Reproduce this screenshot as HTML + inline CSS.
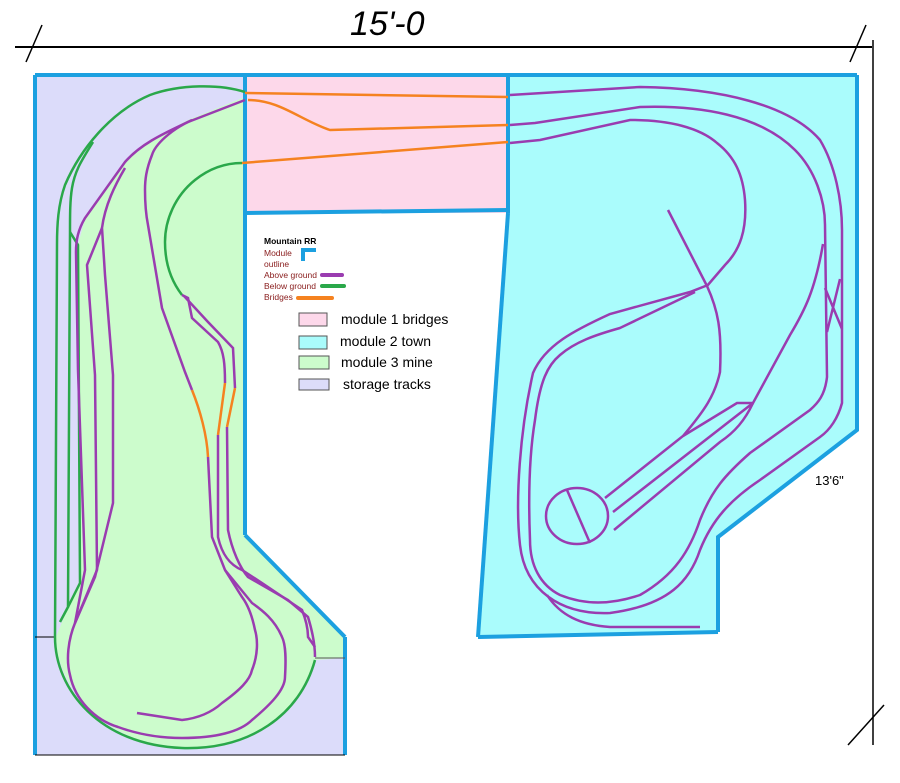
<!DOCTYPE html>
<html><head><meta charset="utf-8"><style>
html,body{margin:0;padding:0;background:#fff;}
svg{display:block;}
</style></head><body>
<svg width="900" height="783" viewBox="0 0 900 783" xmlns="http://www.w3.org/2000/svg" font-family="Liberation Sans, sans-serif">
<!-- dimension -->
<line x1="15" y1="47" x2="872" y2="47" stroke="#000" stroke-width="2"/>
<line x1="26" y1="62" x2="42" y2="25" stroke="#000" stroke-width="1.5"/>
<line x1="850" y1="62" x2="866" y2="25" stroke="#000" stroke-width="1.5"/>
<line x1="873" y1="40" x2="873" y2="745" stroke="#000" stroke-width="1.5"/>
<line x1="848" y1="745" x2="884" y2="705" stroke="#000" stroke-width="1.5"/>
<text x="350" y="35" font-size="34" font-style="italic">15'-0</text>
<text x="815" y="485" font-size="13">13'6"</text>

<!-- fills -->
<rect x="35" y="75" width="210" height="680" fill="#dcdcfa"/>
<rect x="245" y="637" width="100" height="118" fill="#dcdcfa"/>
<rect x="245" y="75" width="263" height="138" fill="#fdd8ea"/>
<polygon points="508,75 857,75 857,430 718,537 718,632 478,637 508,213" fill="#aafcfc"/>
<path d="M245,97 L188,120 C160,135 140,145 125,162 L85,218 L78,245 L80,583 L68,607 L56,637 C55,680 100,745 182,748 C250,750 305,710 315,660 L345,658 L345,637 L245,535 Z" fill="#ccfccc"/>

<!-- blue outlines -->
<g stroke="#1ca0e0" stroke-width="4" fill="none">
<line x1="35" y1="75" x2="857" y2="75"/>
<line x1="35" y1="75" x2="35" y2="755"/>
<polyline points="857,75 857,430 718,537 718,632"/>
<line x1="478" y1="637" x2="718" y2="632"/>
<line x1="508" y1="75" x2="508" y2="213"/>
<line x1="508" y1="213" x2="478" y2="637"/>
<line x1="245" y1="213" x2="508" y2="210"/>
<line x1="245" y1="75" x2="245" y2="535"/>
<line x1="245" y1="535" x2="345" y2="637"/>
<line x1="345" y1="637" x2="345" y2="755"/>
</g>
<line x1="35" y1="755" x2="345" y2="755" stroke="#000" stroke-width="1"/>
<line x1="35" y1="637" x2="56" y2="637" stroke="#000" stroke-width="1"/>
<line x1="315" y1="658" x2="345" y2="658" stroke="#555" stroke-width="1"/>

<!-- green (below ground) -->
<g stroke="#2aa84a" stroke-width="2.5" fill="none">
<path d="M245,92 C220,84 180,84 150,95 C110,112 80,150 65,185 C58,205 57,225 57,245 L55,637 C55,690 100,745 182,748 C250,750 300,715 315,660"/>
<path d="M93,142 C82,160 75,170 72,188 C70,200 70,215 70,232 L68,607 L60,622"/>
<path d="M70,232 L78,245 L80,583 L68,607"/>
<path d="M242,163 C225,163 210,168 195,180 C175,196 165,220 165,242 C165,265 172,282 182,295"/>
</g>
<!-- orange bridges -->
<g stroke="#f58220" stroke-width="2.5" fill="none">
<path d="M245,93 L508,97"/>
<path d="M248,100 C280,100 300,120 330,130 L508,125"/>
<path d="M242,163 L508,142"/>
<path d="M192,390 C200,410 207,435 208,457"/>
<path d="M225,383 L218,435"/>
<path d="M235,388 L227,427"/>
</g>
<!-- purple (above ground) left -->
<g stroke="#9a3cb0" stroke-width="2.5" fill="none">
<path d="M245,100 L188,122 C160,135 140,145 125,162 L85,218 C78,230 76,240 76,252 L78,370 L85,570 L75,623 C68,640 66,660 70,675 C75,700 95,720 118,727 C140,735 160,738 182,738 C215,738 240,732 252,720 C270,705 285,690 285,677 C286,660 286,645 282,637 C275,620 262,610 252,603 L225,570 L212,537 L208,457"/>
<path d="M192,120 C170,130 155,145 152,155 C146,170 145,180 145,190 C145,205 146,215 148,225 L162,308 L185,372 L192,390"/>
<path d="M125,168 C115,185 105,205 102,228 L105,275 L113,375 L113,503 L95,577 L75,623"/>
<path d="M102,228 L87,265 L95,375 L97,570 L75,623"/>
<path d="M137,713 L182,720 C200,718 212,712 222,703 C240,690 250,680 252,670 C258,655 258,640 255,630 C252,615 248,605 242,597 L225,570"/>
<path d="M182,295 L188,298 L192,318 L218,342 C224,352 225,365 225,383"/>
<path d="M184,296 L208,322 L233,348 L235,388"/>
<path d="M218,435 L218,537 C222,555 230,565 242,570 L262,583 L302,610 C306,620 308,630 308,637 L315,647"/>
<path d="M227,427 L228,530 C232,550 240,568 248,577 L288,600 L308,617 C312,630 315,645 315,657"/>
</g>
<!-- purple right -->
<g stroke="#9a3cb0" stroke-width="2.5" fill="none">
<path d="M510,95 L640,87 C720,88 790,105 820,140 C835,165 842,200 842,230 L842,403 C838,418 830,430 820,437 L760,480 C730,500 712,520 700,550 C690,580 670,605 610,613 C560,615 525,590 520,545 C515,500 520,430 533,373 C545,345 575,330 610,314 L690,292 L708,285"/>
<path d="M510,125 L535,123 L640,107 C700,105 760,115 795,150 C815,170 825,200 825,225 L827,377 C825,395 818,403 810,410 L750,453 C725,475 712,490 700,520 C690,550 675,575 640,595 C610,605 585,605 560,595 C540,585 530,565 530,540 C528,490 530,450 535,420 C540,380 548,365 560,355 C575,342 595,335 620,328 L695,292"/>
<path d="M510,143 L540,140 L630,120 C670,120 700,128 717,143 C735,157 743,175 745,200 C747,230 740,250 725,265 L707,286 C718,310 722,330 720,372 C715,395 705,410 683,436 L605,498"/>
<path d="M668,210 L707,286"/>
<path d="M823,244 C815,290 805,310 790,335 L753,403 L737,403 L683,436"/>
<path d="M753,403 L613,512"/>
<path d="M753,403 C745,420 735,432 720,442 L614,530"/>
<path d="M547,595 C560,615 580,625 610,627 L700,627"/>
<path d="M825,288 L842,329 M840,279 L827,332"/>
<ellipse cx="577" cy="516" rx="31" ry="28"/>
<line x1="567" y1="490" x2="590" y2="543"/>
</g>

<!-- legend -->
<text x="264" y="244" font-size="8.5" font-weight="bold" fill="#000">Mountain RR</text>
<text x="264" y="256" font-size="8.5" fill="#8b2020">Module</text>
<text x="264" y="267" font-size="8.5" fill="#8b2020">outline</text>
<path d="M303,261 L303,250 L316,250" stroke="#1ca0e0" stroke-width="4" fill="none"/>
<text x="264" y="278" font-size="8.5" fill="#8b2020">Above ground</text>
<line x1="322" y1="275" x2="342" y2="275" stroke="#9a3cb0" stroke-width="4" stroke-linecap="round"/>
<text x="264" y="289" font-size="8.5" fill="#8b2020">Below ground</text>
<line x1="322" y1="286" x2="344" y2="286" stroke="#2aa84a" stroke-width="4" stroke-linecap="round"/>
<text x="264" y="300" font-size="8.5" fill="#8b2020">Bridges</text>
<line x1="298" y1="298" x2="332" y2="298" stroke="#f58220" stroke-width="4" stroke-linecap="round"/>
<g stroke="#555" stroke-width="1">
<rect x="299" y="313" width="28" height="13" fill="#fdd8ea"/>
<rect x="299" y="336" width="28" height="13" fill="#aafcfc"/>
<rect x="299" y="356" width="30" height="13" fill="#ccfccc"/>
<rect x="299" y="379" width="30" height="11" fill="#dcdcfa"/>
</g>
<g font-size="14" fill="#000">
<text x="341" y="324">module 1 bridges</text>
<text x="340" y="346">module 2 town</text>
<text x="341" y="367">module 3  mine</text>
<text x="343" y="389">storage tracks</text>
</g>
</svg>
</body></html>
